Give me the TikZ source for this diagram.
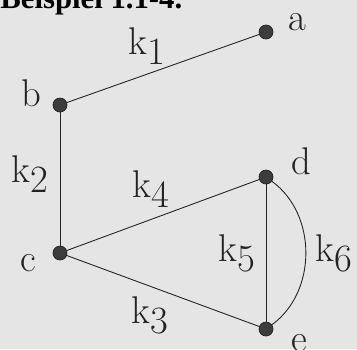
\documentclass[tikz,border=0pt]{standalone}
\usepackage{fontspec}
\usepackage{tikz}
\usetikzlibrary{positioning}
\newfontfamily\headfont{Liberation Serif}
\definecolor{paper}{RGB}{229,229,229}
\definecolor{ink}{RGB}{35,35,35}
\definecolor{dotfill}{RGB}{60,60,60}
\newcommand{\kname}[1]{k\raisebox{-5.7pt}{#1}}

\begin{document}
\begin{tikzpicture}[x=0.02cm, y=-0.02cm,
  vertex/.style={circle, draw=ink, fill=dotfill, inner sep=0pt, minimum size=0.28cm},
  vname/.style={inner sep=0pt, font=\fontsize{22}{26}\selectfont, text=ink},
  klabel/.style={inner sep=0pt, font=\fontsize{22}{26}\selectfont, text=ink},
  edge/.style={draw=ink, line width=0.5pt}
]
\fill[paper] (0,0) rectangle (357,349);
\useasboundingbox (0,0) rectangle (357,349);
\node[anchor=base west, inner sep=0pt, font=\headfont\bfseries\fontsize{17.5}{20}\selectfont] (title) at (0,8) {Beispiel 1.1-4.};
% knots
\node[vertex] (a) at (266,32) {};
\node[vertex] (b) at (60,105) {};
\node[vertex] (c) at (60,253) {};
\node[vertex] (d) at (266,177) {};
\node[vertex] (e) at (266,329) {};
% knot names
\node[vname] (na) at (297,22) {a};
\node[vname] (nb) at (31,93.5) {b};
\node[vname] (nc) at (28.5,263.5) {c};
\node[vname] (nd) at (301,161.5) {d};
\node[vname] (ne) at (299,343) {e};
% edges
\draw[edge] (b) -- (a);
\draw[edge] (b) -- (c);
\draw[edge] (c) -- (e);
\draw[edge] (c) -- (d);
\draw[edge] (d) -- (e);
\draw[edge] (d) to[bend left=54] (e);
% edge names
\node[klabel] (k1) at (146.5,46.5) {\kname{1}};
\node[klabel] (k2) at (30,174.5) {\kname{2}};
\node[klabel] (k3) at (150,315) {\kname{3}};
\node[klabel] (k4) at (150.5,189) {\kname{4}};
\node[klabel] (k5) at (236.5,253.5) {\kname{5}};
\node[klabel] (k6) at (333.5,253.5) {\kname{6}};
\end{tikzpicture}
\end{document}
